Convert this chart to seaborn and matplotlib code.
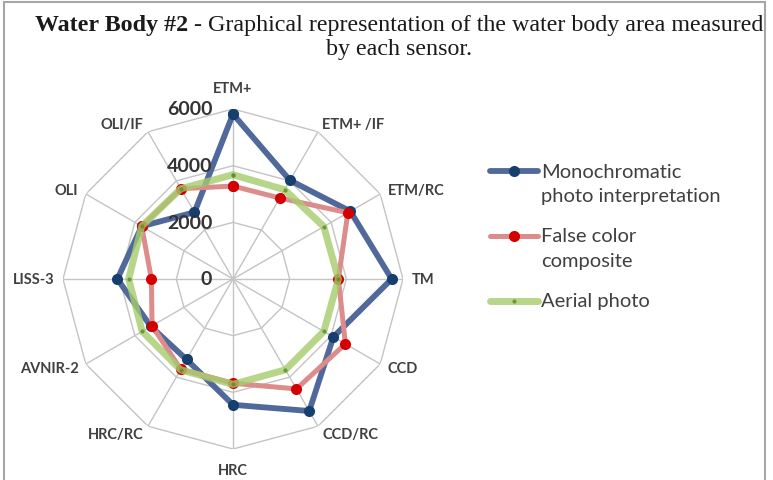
import numpy as np
import pandas as pd
import seaborn as sns
import matplotlib.pyplot as plt
from matplotlib.lines import Line2D
from matplotlib.patches import Rectangle

# =====================================================================
# DATA
# =====================================================================
SENSORS = ["ETM+", "ETM+ /IF", "ETM/RC", "TM", "CCD", "CCD/RC",
           "HRC", "HRC/RC", "AVNIR-2", "LISS-3", "OLI", "OLI/IF"]
MONO = [5820, 4020, 4780, 5600, 4090, 5380, 4440, 3280, 3350, 4080, 3720, 2720]
FALSE_COLOR = [3280, 3300, 4680, 3720, 4580, 4480, 3680, 3680, 3300, 2880, 3720, 3680]
AERIAL = [3680, 3640, 3700, 3720, 3700, 3700, 3720, 3700, 3700, 3680, 3720, 3680]
RINGS = [2000, 4000, 6000]
RING_LABELS = ["0", "2000", "4000", "6000"]

SERIES = [
    # label, values, line colour, marker colour, line width, marker size, alpha
    ("Monochromatic\nphoto interpretation", MONO, "#50699a", "#163f6e", 4.2, 8, 1.0),
    ("False color\ncomposite", FALSE_COLOR, "#dd8c8c", "#d40000", 3.6, 8, 1.0),
    ("Aerial photo", AERIAL, "#a5cc6c", "#5a8c28", 5.0, 3, 0.8),
]

W, H = 773, 481
GRID = "#c4c4c4"
TEXT = "#404040"

sns.set_theme(style="white")
plt.rcParams["font.family"] = ["Lato", "DejaVu Sans"]

fig = plt.figure(figsize=(W / 100, H / 100), dpi=100)

# outer frame of the chart area
fig.add_artist(Rectangle((4 / W, -0.02), 761 / W, 1.02 - 3 / H,
                         transform=fig.transFigure, fill=False,
                         edgecolor="#a6a6a6", lw=1.5))

# =====================================================================
# RADAR AXES
# =====================================================================
cx, cy, rad = 233, 280, 170
ax = fig.add_axes([(cx - rad) / W, (H - cy - rad) / H, 2 * rad / W, 2 * rad / H],
                  projection="polar")
ax.set_theta_zero_location("N")
ax.set_theta_direction(-1)
ax.set_ylim(0, RINGS[-1])
ax.set_xticks([])
ax.set_yticks([])
ax.grid(False)
ax.spines["polar"].set_visible(False)
ax.set_facecolor("none")

n = len(SENSORS)
theta = np.arange(n) * 2 * np.pi / n
theta_closed = np.append(theta, 2 * np.pi)

# polygon gridlines and spokes
for level in RINGS:
    ax.plot(theta_closed, [level] * (n + 1), color=GRID, lw=1.0, zorder=1)
for t in theta:
    ax.plot([t, t], [0, RINGS[-1]], color=GRID, lw=1.0, zorder=1)

# series
for z, (label, vals, lc, mc, lw, ms, alpha) in enumerate(SERIES):
    df = pd.DataFrame({"theta": theta_closed, "area": list(vals) + [vals[0]]})
    sns.lineplot(data=df, x="theta", y="area", ax=ax, sort=False, estimator=None,
                 color=lc, lw=lw, alpha=alpha, zorder=3 + z,
                 marker="o", markersize=ms, markerfacecolor=mc,
                 markeredgecolor=mc, markeredgewidth=0)
ax.set_xlabel("")
ax.set_ylabel("")
ax.set_ylim(0, RINGS[-1])

# radial value labels left of the vertical axis
for level, txt in zip([0] + RINGS, RING_LABELS):
    ax.annotate(txt, xy=(0, level), xytext=(-15, 0), textcoords="offset points",
                ha="right", va="center", fontsize=14, fontweight="bold",
                color="#333333", zorder=10)

# category labels around the chart
for t, name in zip(theta, SENSORS):
    s = np.sin(t)
    if abs(s) < 0.1:
        ax.text(t, 6750, name, ha="center", va="center", fontsize=10.5,
                fontweight="bold", color=TEXT)
    else:
        ax.text(t, 6300, name, ha="left" if s > 0 else "right", va="center",
                fontsize=10.5, fontweight="bold", color=TEXT)

# =====================================================================
# LEGEND (drawn by hand so the marker sits on the first text line)
# =====================================================================
leg_y = [172, 237, 302]
for (label, vals, lc, mc, lw, ms, alpha), y in zip(SERIES, leg_y):
    fy = (H - y) / H
    fig.add_artist(Line2D([490 / W, 514 / W, 538 / W], [fy, fy, fy],
                          transform=fig.transFigure, color=lc, lw=lw, alpha=alpha,
                          marker="o", markersize=ms, markevery=[1],
                          markerfacecolor=mc, markeredgewidth=0))
    for k, line in enumerate(label.split("\n")):
        fig.text(541 / W, (H - y - 25 * k) / H, line, ha="left", va="center",
                 fontsize=14.5, color=TEXT)

# =====================================================================
# TITLE (bold lead-in followed by regular text, centred)
# =====================================================================
renderer = fig.canvas.get_renderer()
serif = ["Liberation Serif", "DejaVu Serif"]
t1 = fig.text(0, (H - 25) / H, "Water Body #2", ha="left", va="center",
              fontsize=17.3, fontweight="bold", family=serif, color="#1a1a1a")
t2 = fig.text(0, (H - 25) / H,
              " - Graphical representation of the water body area measured",
              ha="left", va="center", fontsize=17.3, family=serif, color="#1a1a1a")
w1 = t1.get_window_extent(renderer).width
w2 = t2.get_window_extent(renderer).width
x0 = 399 - (w1 + w2) / 2
t1.set_x(x0 / W)
t2.set_x((x0 + w1) / W)
fig.text(399 / W, (H - 50) / H, "by each sensor.", ha="center", va="center",
         fontsize=17.3, family=serif, color="#1a1a1a")

fig.savefig("out.png", dpi=100)
plt.close(fig)
